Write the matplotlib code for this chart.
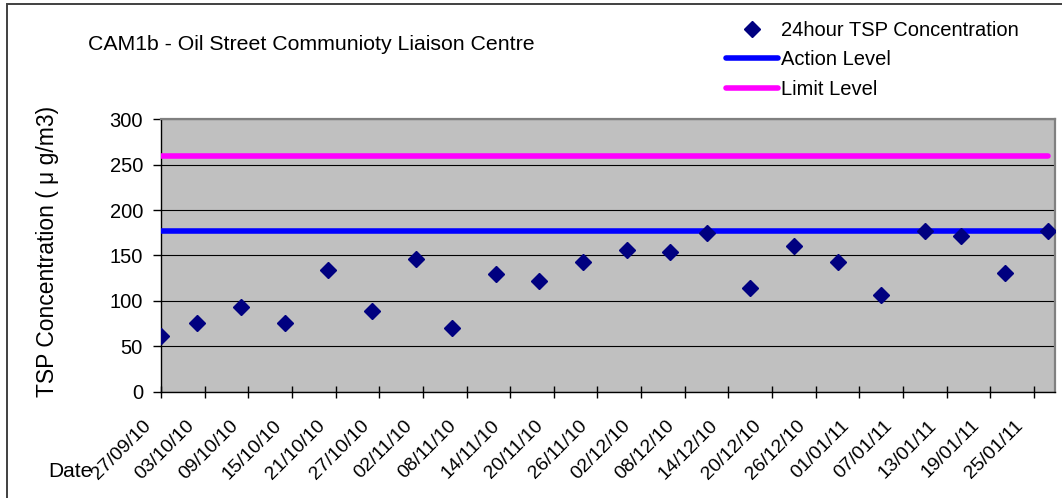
import numpy as np
import pandas as pd
import matplotlib
matplotlib.use('Agg')
import matplotlib.pyplot as plt
from matplotlib.patches import Rectangle

plt.rcParams['font.family'] = ['Liberation Sans', 'Noto Sans CJK SC', 'DejaVu Sans']

# ---- data ----
dates = pd.to_datetime([
    '2010-09-27', '2010-10-02', '2010-10-08', '2010-10-14', '2010-10-20', '2010-10-26',
    '2010-11-01', '2010-11-06', '2010-11-12', '2010-11-18', '2010-11-24', '2010-11-30',
    '2010-12-06', '2010-12-11', '2010-12-17', '2010-12-23', '2010-12-29',
    '2011-01-04', '2011-01-10', '2011-01-15', '2011-01-21', '2011-01-27'])
tsp = [61, 76, 93, 76, 134, 89,
       146, 70, 130, 122, 143, 156,
       154, 175, 114, 160, 143,
       106, 177, 171, 131, 177]
action_level = 177
limit_level = 260
tick_start = '2010-09-27'
tick_end = '2011-01-25'

W, H = 1062, 498
fig = plt.figure(figsize=(W / 100, H / 100), dpi=100, facecolor='white')
# outer chart frame
fig.patches.append(Rectangle((7 / W, -0.1), 1.2, 1 - 4 / H + 0.1, transform=fig.transFigure,
                             fill=False, edgecolor='#404040', linewidth=1.4))

ax = fig.add_axes([161 / W, 1 - 391.7 / H, (1055 - 161) / W, (391.7 - 119.3) / H])
ax.set_facecolor('#C0C0C0')

ax.plot(dates, tsp, linestyle='none', marker='D', markersize=8.5, color='#000080', zorder=4,
        label='24hour TSP Concentration')
ax.plot([dates[0], dates[-1]], [action_level] * 2, color='#0000FF', linewidth=4,
        solid_capstyle='round', zorder=3, label='Action Level')
ax.plot([dates[0], dates[-1]], [limit_level] * 2, color='#FF00FF', linewidth=4,
        solid_capstyle='round', zorder=3, label='Limit Level')

ax.set_ylim(0, 300)
ax.set_yticks(np.arange(0, 301, 50))
ax.yaxis.grid(True, color='black', linewidth=0.8)
ax.set_axisbelow(True)

start = pd.Timestamp(tick_start)
ax.set_xlim(start, start + pd.Timedelta(days=122.9))
ticks = pd.date_range(tick_start, tick_end, freq='6D')
ax.set_xticks(ticks)
ax.set_xticklabels([])
for t in ticks:
    ax.annotate(t.strftime('%d/%m/%y'), xy=(t, 0), xycoords=('data', 'axes fraction'),
                xytext=(-19, -25), textcoords='offset pixels', rotation=45,
                rotation_mode='anchor', ha='right', va='top', fontsize=14)

ax.tick_params(axis='x', direction='inout', length=9, width=1)
ax.tick_params(axis='y', direction='out', length=6, width=1, labelsize=14.5, pad=7)

for s in ['top', 'right']:
    ax.spines[s].set_color('#808080')
    ax.spines[s].set_linewidth(1.6)
for s in ['left', 'bottom']:
    ax.spines[s].set_color('black')
    ax.spines[s].set_linewidth(1)

ax.set_ylabel('TSP Concentration ( \u03bc g/m3)', fontsize=16.5)
ax.yaxis.set_label_coords(59 / W, 1 - 251 / H, transform=fig.transFigure)

fig.text(88 / W, 1 - 44 / H, 'CAM1b - Oil Street Communioty Liaison Centre', fontsize=15.3,
         ha='left', va='center')
fig.text(48 / W, 1 - 471 / H, 'Date', fontsize=15, ha='left', va='center')

handles, labels = ax.get_legend_handles_labels()
fig.legend(handles, labels, loc='upper left', bbox_to_anchor=(726 / W, 1 - 21 / H),
           frameon=False, fontsize=14.5, handlelength=2.6, handletextpad=0.15,
           labelspacing=0.52, borderpad=0, borderaxespad=0)

fig.savefig('out.png', dpi=100, facecolor='white')
